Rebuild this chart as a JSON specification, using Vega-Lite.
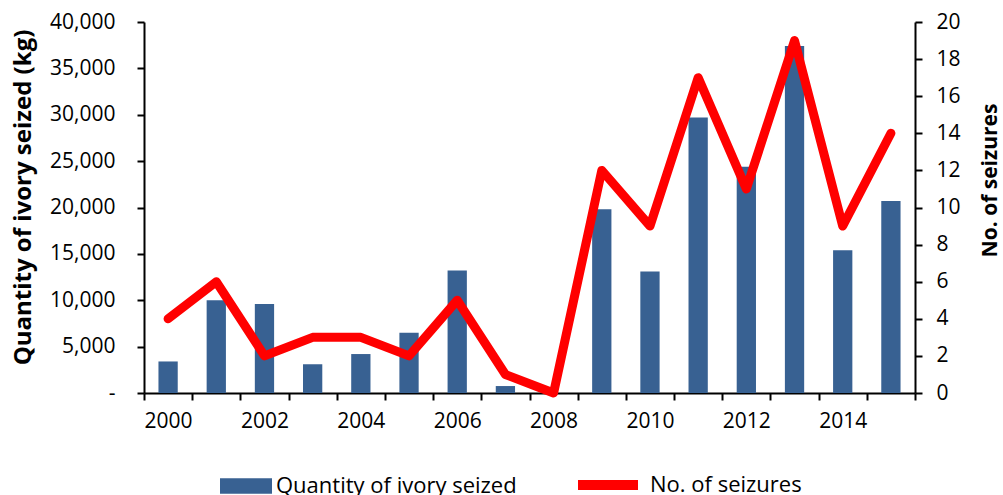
{
  "$schema": "https://vega.github.io/schema/vega-lite/v6.json",
  "autosize": "none",
  "padding": {"left": 144, "top": 22, "right": 88, "bottom": 102},
  "width": 771,
  "height": 371,
  "background": "white",
  "config": {
    "font": "Open Sans",
    "view": {"stroke": null},
    "axis": {
      "labelFont": "Open Sans",
      "labelFontSize": 21,
      "labelColor": "#000000",
      "titleFont": "Open Sans",
      "titleFontWeight": "bold",
      "titleColor": "#000000",
      "domainColor": "#000000",
      "domainWidth": 2,
      "tickColor": "#000000",
      "tickWidth": 2,
      "tickSize": 7,
      "grid": false
    },
    "legend": {
      "labelFont": "Open Sans",
      "labelFontSize": 22,
      "labelColor": "#000000",
      "labelLimit": 500,
      "padding": 0
    }
  },
  "data": {
    "values": [
      {"year": 2000, "quantity": 3400, "seizures": 4},
      {"year": 2001, "quantity": 10000, "seizures": 6},
      {"year": 2002, "quantity": 9600, "seizures": 2},
      {"year": 2003, "quantity": 3100, "seizures": 3},
      {"year": 2004, "quantity": 4200, "seizures": 3},
      {"year": 2005, "quantity": 6500, "seizures": 2},
      {"year": 2006, "quantity": 13200, "seizures": 5},
      {"year": 2007, "quantity": 750, "seizures": 1},
      {"year": 2008, "quantity": 0, "seizures": 0},
      {"year": 2009, "quantity": 19800, "seizures": 12},
      {"year": 2010, "quantity": 13100, "seizures": 9},
      {"year": 2011, "quantity": 29700, "seizures": 17},
      {"year": 2012, "quantity": 24400, "seizures": 11},
      {"year": 2013, "quantity": 37400, "seizures": 19},
      {"year": 2014, "quantity": 15400, "seizures": 9},
      {"year": 2015, "quantity": 20700, "seizures": 14}
    ]
  },
  "encoding": {
    "x": {
      "field": "year",
      "type": "ordinal",
      "scale": {"paddingInner": 0, "paddingOuter": 0},
      "axis": {
        "title": null,
        "labelAngle": 0,
        "tickBand": "extent",
        "labelPadding": 10,
        "labelExpr": "datum.value % 2 == 0 ? datum.label : ''"
      }
    }
  },
  "layer": [
    {
      "mark": {"type": "bar", "width": {"band": 0.4}},
      "encoding": {
        "y": {
          "field": "quantity",
          "type": "quantitative",
          "scale": {"domain": [0, 40000], "nice": false},
          "axis": {
            "title": "Quantity of ivory seized (kg)",
            "titleFontSize": 24,
            "titleAngle": 270,
            "titleAlign": "center",
            "titleBaseline": "middle",
            "titleX": -121,
            "titleY": 175,
            "values": [0, 5000, 10000, 15000, 20000, 25000, 30000, 35000, 40000],
            "labelExpr": "datum.value == 0 ? '-' : format(datum.value, ',')",
            "labelPadding": 22
          }
        },
        "fill": {
          "datum": "Quantity of ivory seized",
          "scale": {"range": ["#386192"]},
          "legend": {
            "orient": "none",
            "legendX": 76,
            "legendY": 438,
            "title": null,
            "symbolType": "M-1,-0.3H1V0.3H-1Z",
            "symbolSize": 2704,
            "symbolStrokeWidth": 0,
            "symbolOpacity": 1,
            "labelOffset": 4
          }
        }
      }
    },
    {
      "mark": {"type": "line", "strokeWidth": 9, "strokeCap": "round", "strokeJoin": "round"},
      "encoding": {
        "y": {
          "field": "seizures",
          "type": "quantitative",
          "scale": {"domain": [0, 20], "nice": false},
          "axis": {
            "title": "No. of seizures",
            "titleFontSize": 21,
            "titleAngle": 270,
            "titleAlign": "center",
            "titleBaseline": "middle",
            "titleX": 75,
            "titleY": 158,
            "orient": "right",
            "values": [0, 2, 4, 6, 8, 10, 12, 14, 16, 18, 20],
            "labelPadding": 14
          }
        },
        "stroke": {
          "datum": "No. of seizures",
          "scale": {"range": ["#ff0000"]},
          "legend": {
            "orient": "none",
            "legendX": 429,
            "legendY": 428,
            "title": null,
            "symbolType": "stroke",
            "symbolSize": 3600,
            "symbolStrokeWidth": 10,
            "symbolStrokeColor": "#ff0000",
            "labelOffset": 7
          }
        }
      }
    }
  ],
  "resolve": {"scale": {"y": "independent"}}
}
